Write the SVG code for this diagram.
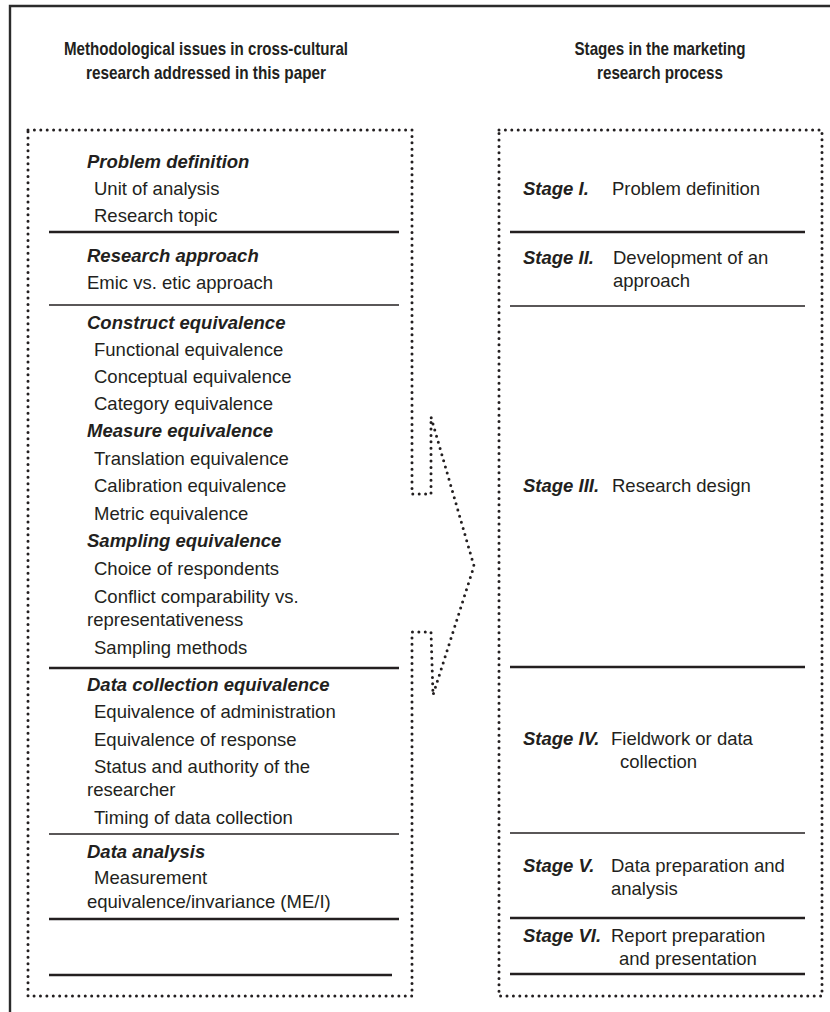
<svg xmlns="http://www.w3.org/2000/svg" width="830" height="1012" viewBox="0 0 830 1012">
<style>
  text { font-family: "Liberation Sans", Arial, sans-serif; font-size: 18.5px; fill: #231f20; }
  .title { font-weight: bold; text-anchor: middle; }
  .head { font-weight: bold; font-style: italic; }
  .dot { fill: none; stroke: #231f20; stroke-width: 3; stroke-linecap: round; stroke-linejoin: round; stroke-dasharray: 0 6.4; }
  .thick { stroke: #231f20; stroke-width: 2.4; }
  .thin { stroke: #231f20; stroke-width: 1.5; }
  .frame { stroke: #2b2b2b; stroke-width: 2.4; fill: none; }
</style>
<rect width="830" height="1012" fill="#ffffff"/>
<g id="frame">
  <path class="frame" d="M 10 1012 V 6 H 830"/>
</g>
<g id="title-left">
  <text class="title" x="206" y="55" textLength="284" lengthAdjust="spacingAndGlyphs">Methodological issues in cross-cultural</text>
  <text class="title" x="206" y="79" textLength="240" lengthAdjust="spacingAndGlyphs">research addressed in this paper</text>
</g>
<g id="title-right">
  <text class="title" x="660" y="55" textLength="171" lengthAdjust="spacingAndGlyphs">Stages in the marketing</text>
  <text class="title" x="660" y="79" textLength="126" lengthAdjust="spacingAndGlyphs">research process</text>
</g>
<g id="left-panel">
  <path class="dot" d="M 28 130 H 412 V 494 H 431 V 417 L 474 566 L 433 695 L 431 632 H 412 V 996 H 28 Z"/>
  <line class="thick" x1="49" y1="232" x2="399" y2="232"/>
  <line class="thin" x1="49" y1="305" x2="399" y2="305"/>
  <line class="thick" x1="49" y1="668" x2="399" y2="668"/>
  <line class="thin" x1="49" y1="834" x2="399" y2="834"/>
  <line class="thick" x1="49" y1="919" x2="399" y2="919"/>
  <line class="thick" x1="49" y1="975" x2="392" y2="975"/>
</g>
<g id="issue-problem-definition">
  <text class="head" x="87" y="168">Problem definition</text>
  <text x="94" y="195">Unit of analysis</text>
  <text x="94" y="222">Research topic</text>
</g>
<g id="issue-research-approach">
  <text class="head" x="87" y="262">Research approach</text>
  <text x="87" y="289">Emic vs. etic approach</text>
</g>
<g id="issue-construct-equivalence">
  <text class="head" x="87" y="329">Construct equivalence</text>
  <text x="94" y="356">Functional equivalence</text>
  <text x="94" y="383">Conceptual equivalence</text>
  <text x="94" y="410">Category equivalence</text>
</g>
<g id="issue-measure-equivalence">
  <text class="head" x="87" y="437">Measure equivalence</text>
  <text x="94" y="465">Translation equivalence</text>
  <text x="94" y="492">Calibration equivalence</text>
  <text x="94" y="520">Metric equivalence</text>
</g>
<g id="issue-sampling-equivalence">
  <text class="head" x="87" y="547">Sampling equivalence</text>
  <text x="94" y="575">Choice of respondents</text>
  <text x="94" y="603">Conflict comparability vs.</text>
  <text x="87" y="626">representativeness</text>
  <text x="94" y="654">Sampling methods</text>
</g>
<g id="issue-data-collection-equivalence">
  <text class="head" x="87" y="691">Data collection equivalence</text>
  <text x="94" y="718">Equivalence of administration</text>
  <text x="94" y="746">Equivalence of response</text>
  <text x="94" y="773">Status and authority of the</text>
  <text x="87" y="796">researcher</text>
  <text x="94" y="824">Timing of data collection</text>
</g>
<g id="issue-data-analysis">
  <text class="head" x="87" y="858">Data analysis</text>
  <text x="94" y="884">Measurement</text>
  <text x="87" y="908">equivalence/invariance (ME/I)</text>
</g>
<g id="right-panel">
  <path class="dot" d="M 499 130 H 822 V 996 H 499 Z"/>
  <line class="thick" x1="510" y1="232" x2="805" y2="232"/>
  <line class="thin" x1="510" y1="306" x2="805" y2="306"/>
  <line class="thick" x1="510" y1="667" x2="805" y2="667"/>
  <line class="thin" x1="510" y1="833" x2="805" y2="833"/>
  <line class="thick" x1="510" y1="918" x2="805" y2="918"/>
  <line class="thick" x1="510" y1="974" x2="805" y2="974"/>
</g>
<g id="stage-1">
  <text class="head" x="523" y="195">Stage I.</text>
  <text x="612" y="195">Problem definition</text>
</g>
<g id="stage-2">
  <text class="head" x="523" y="264">Stage II.</text>
  <text x="613" y="264">Development of an</text>
  <text x="613" y="287">approach</text>
</g>
<g id="stage-3">
  <text class="head" x="523" y="492">Stage III.</text>
  <text x="612" y="492">Research design</text>
</g>
<g id="stage-4">
  <text class="head" x="523" y="745">Stage IV.</text>
  <text x="611" y="745">Fieldwork or data</text>
  <text x="620" y="768">collection</text>
</g>
<g id="stage-5">
  <text class="head" x="523" y="872">Stage V.</text>
  <text x="611" y="872">Data preparation and</text>
  <text x="611" y="895">analysis</text>
</g>
<g id="stage-6">
  <text class="head" x="523" y="942">Stage VI.</text>
  <text x="611" y="942">Report preparation</text>
  <text x="619" y="965">and presentation</text>
</g>
<g id="connectors"></g>
</svg>
